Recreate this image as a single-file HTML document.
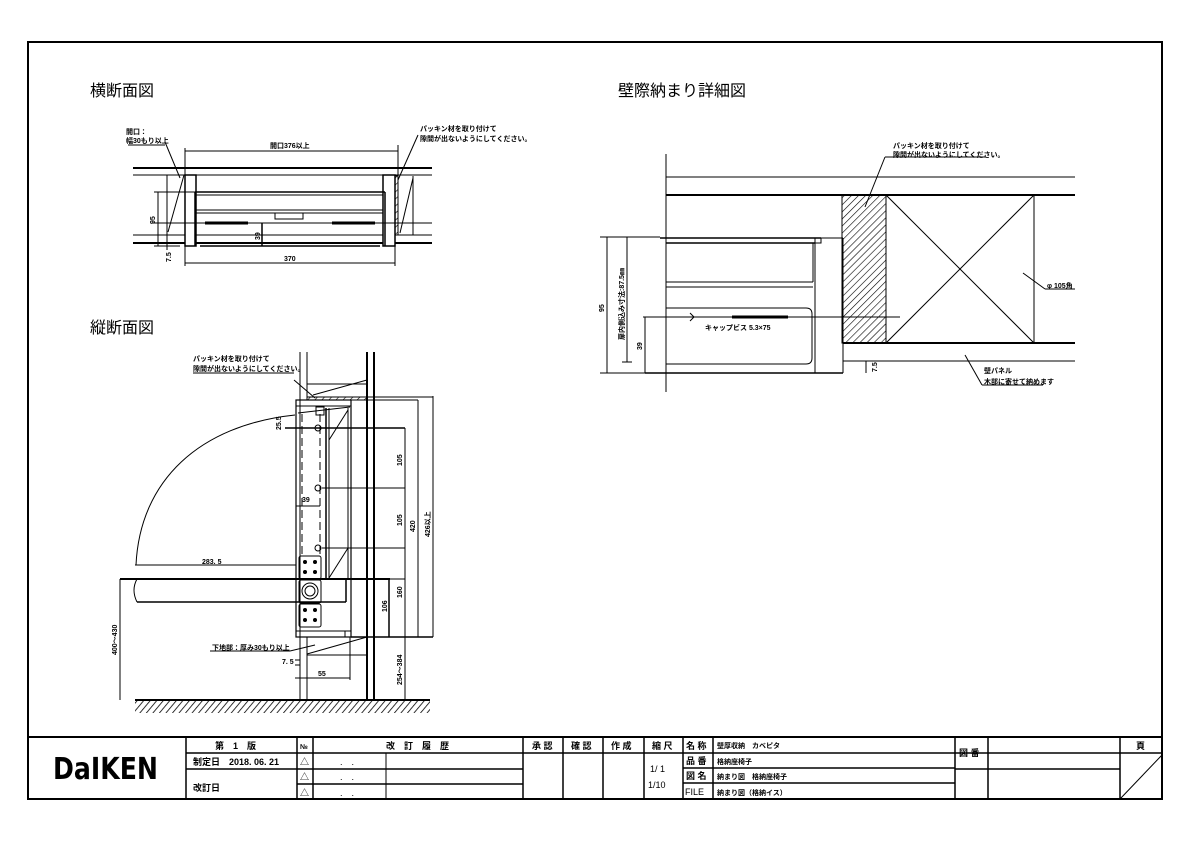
<!DOCTYPE html>
<html><head><meta charset="utf-8"><style>
html,body{margin:0;padding:0;background:#fff;}
svg{display:block;}
text{font-family:"Liberation Sans","Noto Sans CJK JP",sans-serif;fill:#000;}
.s{font-size:7px;font-weight:bold;}
.m{font-size:9px;}
</style></head><body>
<svg width="1191" height="842" viewBox="0 0 1191 842" xmlns="http://www.w3.org/2000/svg">
<defs>
<pattern id="h" width="5" height="5" patternUnits="userSpaceOnUse" patternTransform="rotate(45)"><line x1="0" y1="0" x2="0" y2="5" stroke="#000" stroke-width="1.2"/></pattern>
<pattern id="fl" width="5" height="5" patternUnits="userSpaceOnUse" patternTransform="rotate(40)"><line x1="0" y1="0" x2="0" y2="5" stroke="#000" stroke-width="1.6"/></pattern>
</defs>
<rect width="1191" height="842" fill="#fff"/>
<rect x="28" y="42" width="1134" height="757" fill="none" stroke="#000" stroke-width="2"/>
<line x1="28" y1="737" x2="1162" y2="737" stroke="#000" stroke-width="2"/>

<text x="90" y="96" font-size="16">横断面図</text>
<text x="90" y="333" font-size="16">縦断面図</text>
<text x="618" y="96" font-size="16">壁際納まり詳細図</text>

<g stroke="#000" fill="none">
<line x1="133" y1="168" x2="432" y2="168" stroke-width="2"/>
<line x1="133" y1="175" x2="432" y2="175"/>
<line x1="133" y1="235" x2="432" y2="235"/>
<line x1="133" y1="243" x2="432" y2="243" stroke-width="2"/>
<line x1="185" y1="151" x2="398" y2="151"/>
<line x1="185" y1="148" x2="185" y2="175"/>
<line x1="398" y1="145" x2="398" y2="175"/>
<rect x="185" y="175" width="11" height="71" fill="#fff" stroke-width="1.5"/>
<rect x="383" y="175" width="12" height="71" fill="#fff" stroke-width="1.5"/>
<rect x="395" y="176" width="3" height="59" fill="url(#h)"/>
<line x1="195" y1="192" x2="385" y2="192" stroke-width="1.5"/>
<line x1="196" y1="195" x2="383" y2="195"/>
<line x1="196" y1="210" x2="383" y2="210"/>
<line x1="196" y1="213" x2="383" y2="213"/>
<line x1="195" y1="192" x2="195" y2="246" stroke-width="1.5"/>
<line x1="385" y1="192" x2="385" y2="246" stroke-width="1.5"/>
<rect x="275" y="213" width="28" height="6"/>
<line x1="205" y1="223" x2="248" y2="223" stroke-width="3"/>
<line x1="332" y1="223" x2="375" y2="223" stroke-width="3"/>
<line x1="152" y1="223" x2="432" y2="223" stroke-width="1"/>
<line x1="200" y1="246" x2="380" y2="246" stroke-width="1.5"/>
<line x1="262" y1="223" x2="262" y2="246" stroke-width="1.5"/>
<line x1="158" y1="192" x2="158" y2="246"/>
<line x1="154" y1="192" x2="195" y2="192"/>
<line x1="154" y1="246" x2="180" y2="246"/>
<line x1="185" y1="263" x2="395" y2="263"/>
<line x1="185" y1="246" x2="185" y2="266"/>
<line x1="395" y1="246" x2="395" y2="266"/>
<line x1="167" y1="175" x2="167" y2="250"/>
<line x1="165" y1="142" x2="180" y2="178"/>
<line x1="168" y1="232" x2="184" y2="175"/>
<line x1="128" y1="145" x2="165" y2="145"/>
<line x1="398" y1="180" x2="418" y2="135"/>
<line x1="400" y1="233" x2="413" y2="178"/>
<line x1="413" y1="176" x2="413" y2="235"/>
</g>
<text class="s" x="126" y="134">開口：</text>
<text class="s" x="126" y="143">幅30もり以上</text>
<text class="s" x="270" y="148">開口376以上</text>
<text class="s" x="420" y="131">パッキン材を取り付けて</text>
<text class="s" x="420" y="141">隙間が出ないようにしてください。</text>
<text class="s" x="284" y="261">370</text>
<text class="s" transform="translate(155,224) rotate(-90)">95</text>
<text class="s" transform="translate(260,240) rotate(-90)">39</text>
<text class="s" transform="translate(171,262) rotate(-90)">7.5</text>

<g stroke="#000" fill="none">
<line x1="300" y1="352" x2="300" y2="700"/>
<line x1="307" y1="352" x2="307" y2="397"/>
<line x1="307" y1="637" x2="307" y2="700"/>
<line x1="367" y1="352" x2="367" y2="700" stroke-width="2"/>
<line x1="374" y1="352" x2="374" y2="700" stroke-width="2"/>
<rect x="307" y="397" width="60" height="3" fill="url(#h)"/>
<line x1="307" y1="384" x2="367" y2="384"/>
<line x1="313" y1="395" x2="367" y2="380"/>
<rect x="296" y="400" width="55" height="237" stroke-width="1.2"/>
<line x1="296" y1="406" x2="351" y2="406"/>
<line x1="296" y1="631" x2="351" y2="631"/>
<line x1="298" y1="413" x2="350" y2="407"/>
<rect x="316" y="407" width="8" height="8"/>
<line x1="326" y1="408" x2="326" y2="578" stroke-width="1.5"/>
<line x1="329" y1="408" x2="329" y2="578"/>
<line x1="348" y1="408" x2="348" y2="578"/>
<line x1="329" y1="440" x2="348" y2="410"/>
<line x1="329" y1="578" x2="348" y2="548"/>
<line x1="302" y1="414" x2="302" y2="555" stroke-dasharray="8,4"/>
<line x1="320" y1="414" x2="320" y2="555" stroke-dasharray="8,4"/>
<circle cx="318" cy="428" r="3"/><circle cx="318" cy="488" r="3"/><circle cx="318" cy="548" r="3"/>
<line x1="285" y1="428" x2="405" y2="428" stroke-width="1.5"/>
<line x1="322" y1="488" x2="405" y2="488"/>
<line x1="322" y1="548" x2="405" y2="548"/>
<line x1="367" y1="579" x2="405" y2="579"/>
<line x1="351" y1="637" x2="433" y2="637" stroke-width="1.5"/>
<line x1="351" y1="397" x2="433" y2="397"/>
<line x1="351" y1="400" x2="418" y2="400"/>
<line x1="389" y1="579" x2="389" y2="637" stroke-width="1.5"/>
<line x1="405" y1="428" x2="405" y2="700"/>
<line x1="418" y1="400" x2="418" y2="637"/>
<line x1="433" y1="396" x2="433" y2="637"/>
<rect x="299" y="556" width="22" height="23" rx="2"/>
<rect x="299" y="580" width="22" height="23" rx="2"/>
<rect x="299" y="604" width="22" height="23" rx="2"/>
<circle cx="310" cy="591" r="8"/><circle cx="310" cy="591" r="5"/>
<line x1="120" y1="579" x2="390" y2="579" stroke-width="2"/>
<line x1="137" y1="602" x2="346" y2="602" stroke-width="1.5"/>
<line x1="346" y1="579" x2="346" y2="602" stroke-width="1.5"/>
<path d="M137 579 Q131 590 137 602" />
<line x1="120" y1="579" x2="120" y2="700"/>
<line x1="135" y1="565" x2="296" y2="565"/>
<path d="M136 565 C140 480 200 425 295 415" stroke-width="1"/>
<line x1="296" y1="412" x2="296" y2="428"/>
<line x1="296" y1="506" x2="320" y2="506"/>
<line x1="345" y1="631" x2="345" y2="637"/>
<line x1="307" y1="654" x2="367" y2="637"/>
<line x1="307" y1="655" x2="367" y2="655"/>
<line x1="295" y1="660" x2="300" y2="660"/>
<line x1="295" y1="665" x2="300" y2="665"/>
<line x1="295" y1="678" x2="350" y2="678"/>
<line x1="350" y1="637" x2="350" y2="680"/>
<line x1="294" y1="380" x2="315" y2="398"/>
<line x1="193" y1="373" x2="294" y2="373"/>
<line x1="210" y1="651" x2="290" y2="651"/>
<line x1="290" y1="651" x2="315" y2="645"/>
<line x1="135" y1="700" x2="430" y2="700" stroke-width="2"/>
</g>
<g fill="#000">
<circle cx="305" cy="562" r="2"/><circle cx="315" cy="562" r="2"/><circle cx="305" cy="572" r="2"/><circle cx="315" cy="572" r="2"/>
<circle cx="305" cy="610" r="2"/><circle cx="315" cy="610" r="2"/><circle cx="305" cy="620" r="2"/><circle cx="315" cy="620" r="2"/>
</g>
<rect x="135" y="701" width="295" height="12" fill="url(#fl)"/>
<text class="s" x="193" y="361" font-size="6">パッキン材を取り付けて</text>
<text class="s" x="193" y="371" font-size="6">隙間が出ないようにしてください。</text>
<text class="s" x="202" y="564">283. 5</text>
<text class="s" x="302" y="502">39</text>
<text class="s" x="212" y="650" font-size="6">下地部：厚み30もり以上</text>
<text class="s" x="282" y="664">7. 5</text>
<text class="s" x="318" y="676">55</text>
<text class="s" transform="translate(281,430) rotate(-90)">25.5</text>
<text class="s" transform="translate(402,466) rotate(-90)">105</text>
<text class="s" transform="translate(402,526) rotate(-90)">105</text>
<text class="s" transform="translate(415,532) rotate(-90)">420</text>
<text class="s" transform="translate(430,537) rotate(-90)">426以上</text>
<text class="s" transform="translate(402,598) rotate(-90)">160</text>
<text class="s" transform="translate(387,612) rotate(-90)">106</text>
<text class="s" transform="translate(402,685) rotate(-90)">254～384</text>
<text class="s" transform="translate(117,655) rotate(-90)">400～430</text>

<g stroke="#000" fill="none">
<line x1="666" y1="154" x2="666" y2="392"/>
<line x1="666" y1="177" x2="1075" y2="177"/>
<line x1="666" y1="195" x2="1075" y2="195" stroke-width="2"/>
<line x1="843" y1="343" x2="1075" y2="343" stroke-width="2"/>
<line x1="843" y1="361" x2="1075" y2="361"/>
<rect x="842" y="195" width="44" height="148" fill="url(#h)" stroke-width="1"/>
<rect x="886" y="195" width="148" height="148"/>
<line x1="886" y1="195" x2="1034" y2="343"/>
<line x1="1034" y1="195" x2="886" y2="343"/>
<line x1="660" y1="238" x2="821" y2="238" stroke-width="1.5"/>
<line x1="666" y1="243" x2="815" y2="243" stroke-width="1.5"/>
<rect x="815" y="238" width="6" height="5"/>
<line x1="813" y1="243" x2="813" y2="282"/>
<line x1="666" y1="282" x2="813" y2="282"/>
<line x1="666" y1="287" x2="813" y2="287"/>
<line x1="815" y1="243" x2="815" y2="373"/>
<line x1="821" y1="238" x2="843" y2="238"/>
<line x1="843" y1="238" x2="843" y2="373"/>
<path d="M666 308 H806 Q812 308 812 314 V358 Q812 364 806 364 H666"/>
<line x1="645" y1="373" x2="843" y2="373" stroke-width="1.5"/>
<line x1="643" y1="317" x2="900" y2="317"/>
<line x1="732" y1="317" x2="788" y2="317" stroke-width="3"/>
<path d="M690 313 L694 317 L690 321"/>
<line x1="600" y1="237" x2="660" y2="237"/>
<line x1="600" y1="373" x2="645" y2="373"/>
<line x1="607" y1="237" x2="607" y2="373"/>
<line x1="627" y1="237" x2="627" y2="362"/>
<line x1="622" y1="362" x2="632" y2="362"/>
<line x1="645" y1="317" x2="645" y2="373"/>
<line x1="866" y1="361" x2="866" y2="373"/>
<line x1="865" y1="207" x2="885" y2="157"/>
<line x1="885" y1="157" x2="985" y2="157"/>
<line x1="1023" y1="273" x2="1045" y2="289"/>
<line x1="1045" y1="289" x2="1075" y2="289"/>
<line x1="965" y1="355" x2="982" y2="385"/>
<line x1="982" y1="385" x2="1043" y2="385"/>
</g>
<text class="s" x="893" y="148" font-size="6">パッキン材を取り付けて</text>
<text class="s" x="893" y="157" font-size="6">隙間が出ないようにしてください。</text>
<text class="s" x="705" y="330" font-size="7">キャップビス 5.3×75</text>
<text class="s" x="1047" y="288">φ 105角</text>
<text class="s" x="984" y="373" font-size="6">壁パネル</text>
<text class="s" x="984" y="384" font-size="6">木部に寄せて納めます</text>
<text class="s" transform="translate(604,312) rotate(-90)">95</text>
<text class="s" transform="translate(624,340) rotate(-90)" font-size="6">扉内側込み寸法:87.5㎜</text>
<text class="s" transform="translate(642,350) rotate(-90)">39</text>
<text class="s" transform="translate(877,372) rotate(-90)">7.5</text>

<g stroke="#000" fill="none" stroke-width="1.5">
<line x1="186" y1="737" x2="186" y2="799"/>
<line x1="297" y1="737" x2="297" y2="799"/>
<line x1="313" y1="737" x2="313" y2="799"/>
<line x1="523" y1="737" x2="523" y2="799"/>
<line x1="563" y1="737" x2="563" y2="799"/>
<line x1="603" y1="737" x2="603" y2="799"/>
<line x1="644" y1="737" x2="644" y2="799"/>
<line x1="683" y1="737" x2="683" y2="799"/>
<line x1="713" y1="737" x2="713" y2="799"/>
<line x1="955" y1="737" x2="955" y2="799"/>
<line x1="988" y1="737" x2="988" y2="799"/>
<line x1="1120" y1="737" x2="1120" y2="799"/>
<line x1="386" y1="753" x2="386" y2="799" stroke-width="1"/>
<line x1="186" y1="753" x2="1162" y2="753"/>
<line x1="186" y1="769" x2="297" y2="769"/>
<line x1="297" y1="769" x2="523" y2="769"/>
<line x1="297" y1="784" x2="523" y2="784"/>
<line x1="683" y1="768" x2="955" y2="768"/>
<line x1="683" y1="783" x2="955" y2="783"/>
<line x1="955" y1="769" x2="1120" y2="769"/>
<line x1="1120" y1="799" x2="1162" y2="755" stroke-width="1"/>
</g>
<text x="53" y="779" font-size="30" font-weight="bold" textLength="105" lengthAdjust="spacingAndGlyphs" style="font-family:'DejaVu Sans',sans-serif">DaIKEN</text>
<text class="m" x="215" y="749" font-weight="bold">第　1　版</text>
<text class="m" x="193" y="765" font-weight="bold">制定日　2018. 06. 21</text>
<text class="m" x="193" y="791" font-weight="bold">改訂日</text>
<text class="s" x="300" y="749">№</text>
<text class="m" x="300" y="765">△</text><text class="m" x="300" y="780">△</text><text class="m" x="300" y="796">△</text>
<text class="m" x="340" y="765">.　.</text><text class="m" x="340" y="780">.　.</text><text class="m" x="340" y="796">.　.</text>
<text class="m" x="386" y="749" font-weight="bold">改　訂　履　歴</text>
<text class="m" x="532" y="749" font-weight="bold">承 認</text>
<text class="m" x="571" y="749" font-weight="bold">確 認</text>
<text class="m" x="611" y="749" font-weight="bold">作 成</text>
<text class="m" x="652" y="749" font-weight="bold">縮 尺</text>
<text class="m" x="650" y="772">1/ 1</text>
<text class="m" x="648" y="788">1/10</text>
<text class="m" x="686" y="749" font-weight="bold">名 称</text>
<text class="m" x="686" y="764" font-weight="bold">品 番</text>
<text class="m" x="686" y="779" font-weight="bold">図 名</text>
<text class="m" x="685" y="795">FILE</text>
<text class="s" x="717" y="748">壁厚収納　カベピタ</text>
<text class="s" x="717" y="764">格納座椅子</text>
<text class="s" x="717" y="779">納まり図　格納座椅子</text>
<text class="s" x="717" y="795">納まり図（格納イス）</text>
<text class="m" x="959" y="756" font-weight="bold">図 番</text>
<text class="m" x="1136" y="749" font-weight="bold">頁</text>
</svg>
</body></html>
